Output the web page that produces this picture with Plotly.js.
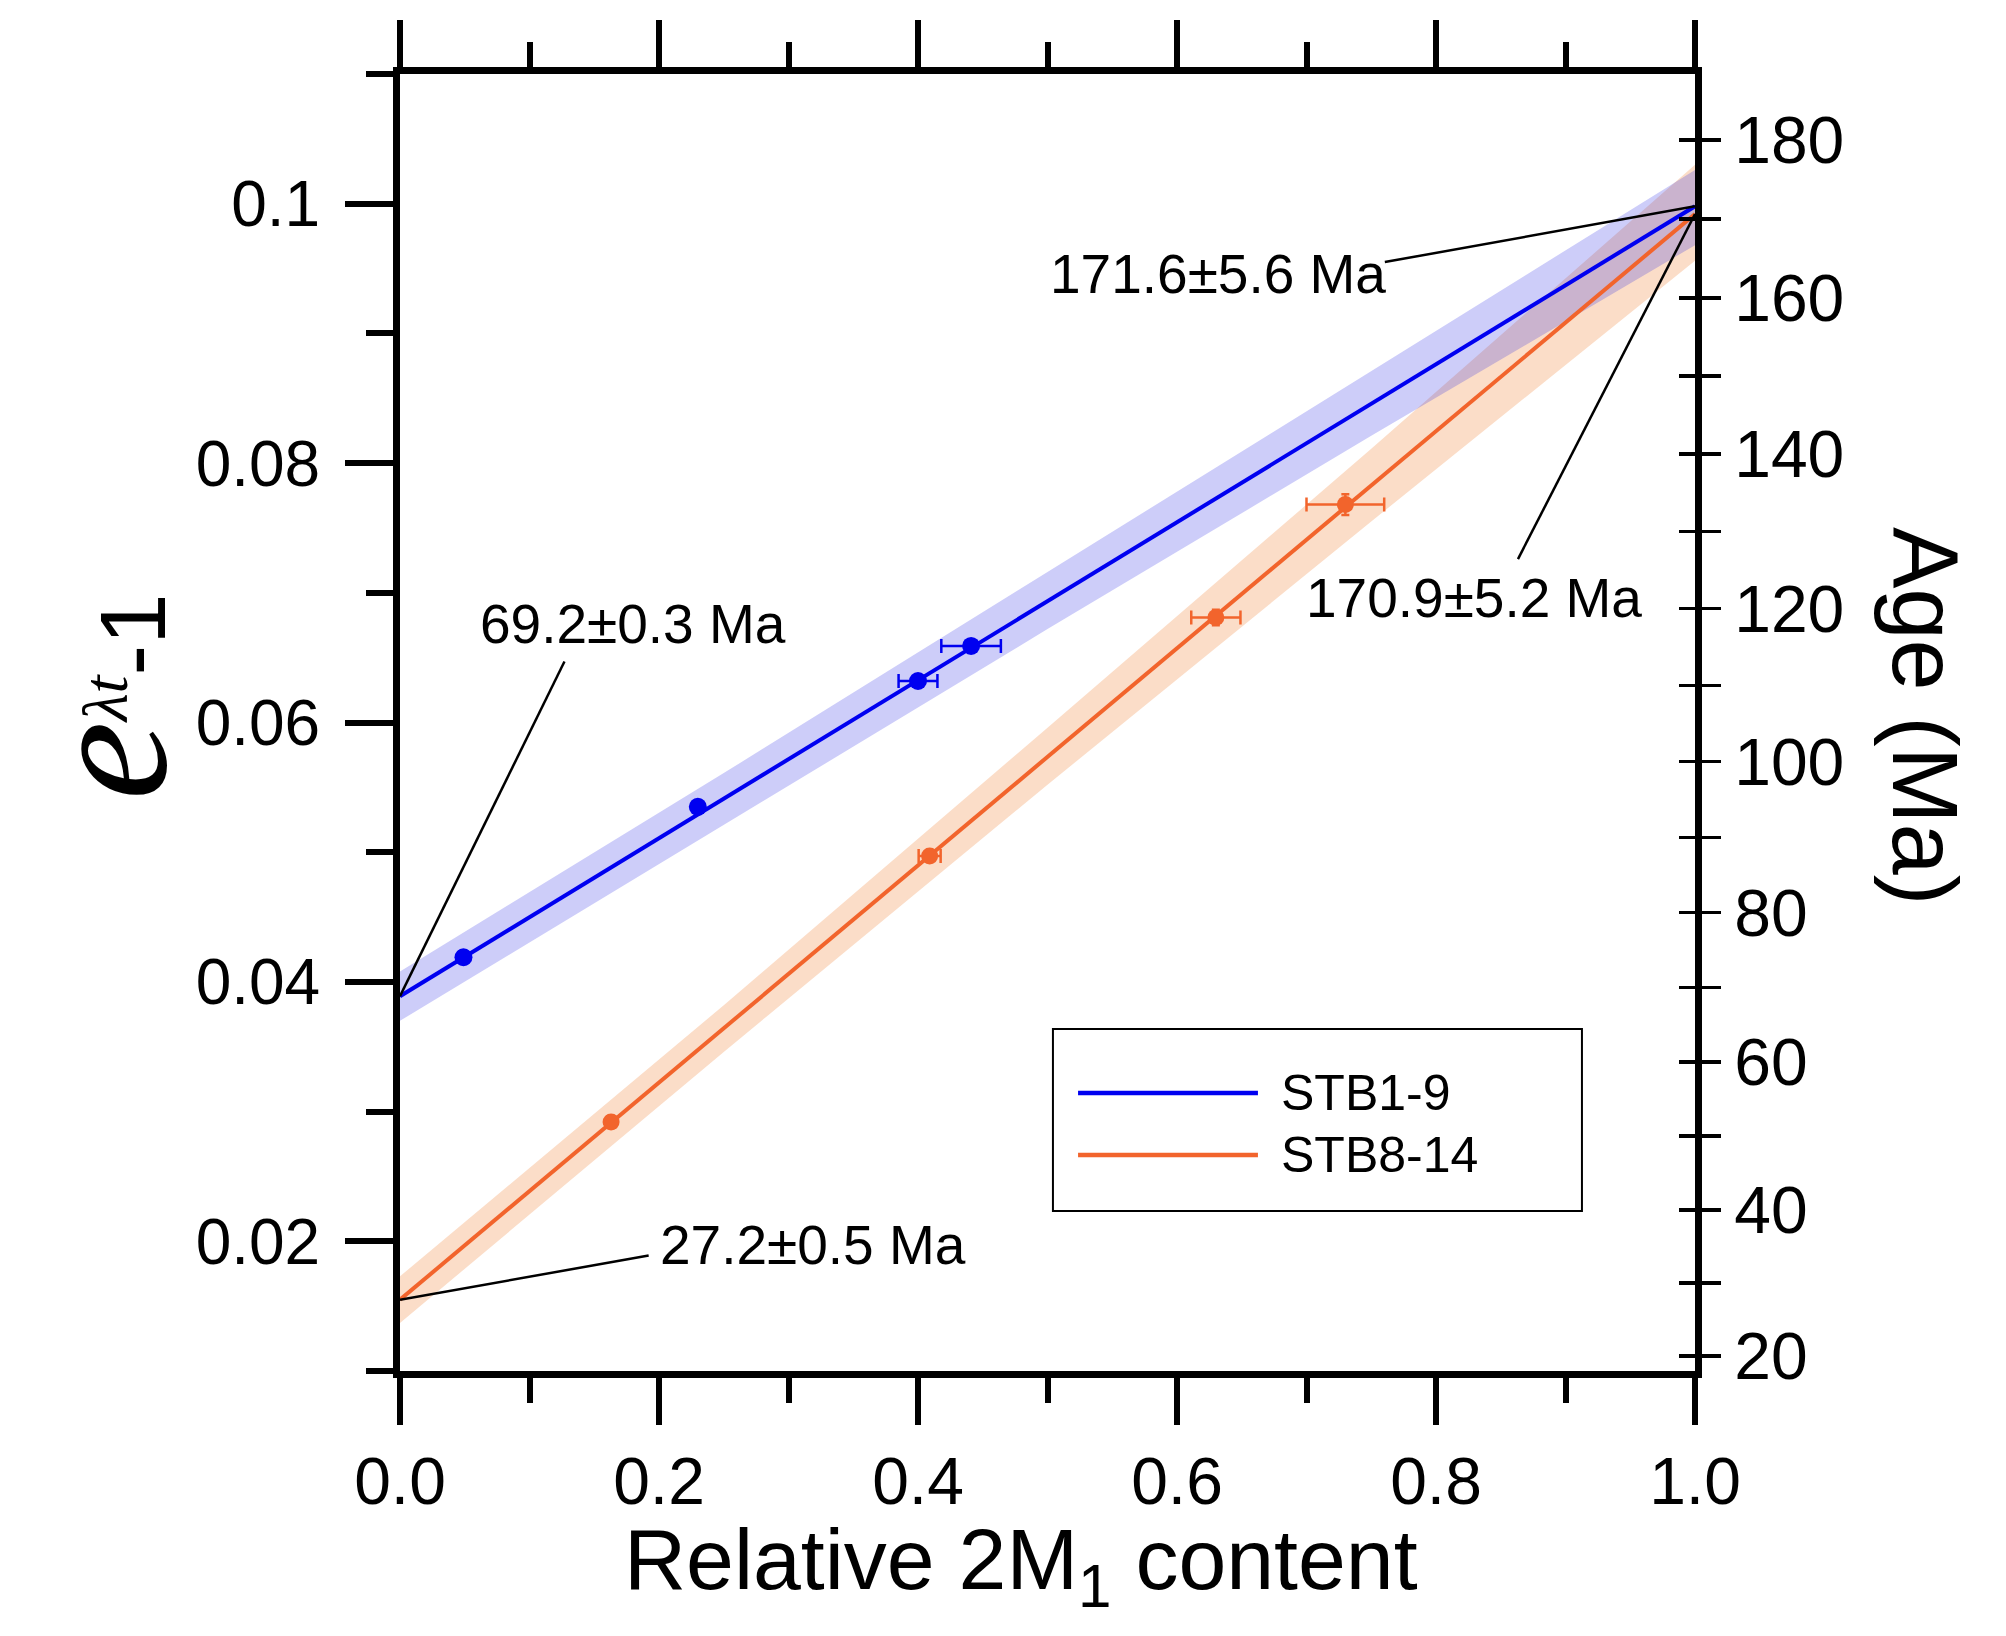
<!DOCTYPE html>
<html>
<head>
<meta charset="utf-8">
<script src="https://cdn.plot.ly/plotly-3.0.1.min.js"></script>
<style>html,body{margin:0;padding:0;background:#fff;}</style>
</head>
<body>
<div id="chart" style="width:2006px;height:1636px;"></div>
<script>
// ---- data ----
const seriesNames = ["STB1-9", "STB8-14"];
const xBlue = [0.049, 0.230, 0.400, 0.441];
const yBlue = [0.0419, 0.0535, 0.0632, 0.0659];
const xErrBlue = [0.003, 0.003, 0.015, 0.023];
const yErrBlue = [0.0003, 0.0004, 0.0004, 0.0005];
const xOrange = [0.163, 0.409, 0.630, 0.730];
const yOrange = [0.0292, 0.0497, 0.0681, 0.0768];
const xErrOrange = [0.003, 0.0085, 0.019, 0.030];
const yErrOrange = [0.0003, 0.0004, 0.0006, 0.0008];
const fitX = [0, 1];
const fitBlue = [0.0389, 0.0998];
const fitOrange = [0.0155, 0.0992];
const bandX = [0, 0.25, 0.5, 0.75, 1];
const bandBlueHi = [0.0408, 0.0561, 0.0716, 0.0871, 0.1026];
const bandBlueLo = [0.0370, 0.0521, 0.0672, 0.0821, 0.0968];
const bandOrangeHi = [0.0173, 0.0382, 0.0596, 0.0811, 0.1030];
const bandOrangeLo = [0.0137, 0.0346, 0.0552, 0.0755, 0.0956];
const ageMajor = [20, 40, 60, 80, 100, 120, 140, 160, 180];
const ageMinor = [30, 50, 70, 90, 110, 130, 150, 170];
const ageLabels = ["171.6\u00b15.6 Ma", "170.9\u00b15.2 Ma", "69.2\u00b10.3 Ma", "27.2\u00b10.5 Ma"];

// conversion of age (Ma) to e^(lambda t)-1 for the right axis
const LAMBDA = 5.543e-4; // per Ma
const ageToY = t => Math.exp(LAMBDA * t) - 1;

const FONT = "Liberation Sans, Arial, Helvetica, sans-serif";
const BLUE = "#0000f0";
const ORANGE = "#f2642c";

function band(hi, lo, color) {
  return {
    x: bandX.concat(bandX.slice().reverse()),
    y: hi.concat(lo.slice().reverse()),
    type: "scatter", mode: "lines", fill: "toself",
    fillcolor: color, line: {width: 0}, hoverinfo: "skip", showlegend: false
  };
}

const traces = [
  band(bandOrangeHi, bandOrangeLo, "rgba(240,128,50,0.27)"),
  band(bandBlueHi, bandBlueLo, "rgba(40,40,230,0.23)"),
  {x: fitX, y: fitBlue, type: "scatter", mode: "lines", name: seriesNames[0],
   line: {color: BLUE, width: 4}, showlegend: false},
  {x: fitX, y: fitOrange, type: "scatter", mode: "lines", name: seriesNames[1],
   line: {color: ORANGE, width: 4}, showlegend: false},
  {x: xBlue, y: yBlue, type: "scatter", mode: "markers", showlegend: false,
   marker: {color: BLUE, size: 18},
   error_x: {type: "data", array: xErrBlue, color: BLUE, thickness: 2.5, width: 7},
   error_y: {type: "data", array: yErrBlue, color: BLUE, thickness: 2.5, width: 4}},
  {x: xOrange, y: yOrange, type: "scatter", mode: "markers", showlegend: false,
   marker: {color: ORANGE, size: 17},
   error_x: {type: "data", array: xErrOrange, color: ORANGE, thickness: 2.5, width: 7},
   error_y: {type: "data", array: yErrOrange, color: ORANGE, thickness: 2.5, width: 4}},
  // right (age) axis carrier traces
  {x: [0], y: [0.05], yaxis: "y2", mode: "markers", marker: {opacity: 0}, showlegend: false, hoverinfo: "skip"},
  {x: [0], y: [0.05], yaxis: "y3", mode: "markers", marker: {opacity: 0}, showlegend: false, hoverinfo: "skip"}
];

// label positions (data coordinates) and leader-line anchors near labels
const labelPos = [[0.632, 0.0946], [0.829, 0.0696], [0.180, 0.0676], [0.319, 0.0197]];
const leaderEnd = [[0.7605, 0.0955], [0.8633, 0.0726], [0.127, 0.0647], [0.192, 0.0189]];
const leaderStart = [[fitX[1], fitBlue[1]], [fitX[1], fitOrange[1]], [fitX[0], fitBlue[0]], [fitX[0], fitOrange[0]]];

const shapes = [];
for (let i = 0; i < 4; i++) {
  shapes.push({type: "line", xref: "x", yref: "y",
    x0: leaderStart[i][0], y0: leaderStart[i][1], x1: leaderEnd[i][0], y1: leaderEnd[i][1],
    line: {color: "black", width: 2.5}, layer: "above"});
}
// legend box and samples (paper coordinates)
shapes.push({type: "rect", xref: "paper", yref: "paper", x0: 0.5042, x1: 0.9127, y0: 0.1234, y1: 0.2637,
  line: {color: "black", width: 2}, fillcolor: "rgba(0,0,0,0)", layer: "above"});
shapes.push({type: "line", xref: "paper", yref: "paper", x0: 0.5236, x1: 0.6625, y0: 0.2143, y1: 0.2143,
  line: {color: BLUE, width: 4.5}});
shapes.push({type: "line", xref: "paper", yref: "paper", x0: 0.5236, x1: 0.6625, y0: 0.1665, y1: 0.1665,
  line: {color: ORANGE, width: 4.5}});

const annotations = [];
for (let i = 0; i < 4; i++) {
  annotations.push({xref: "x", yref: "y", x: labelPos[i][0], y: labelPos[i][1], text: ageLabels[i],
    showarrow: false, xanchor: "center", yanchor: "middle", font: {family: FONT, size: 55, color: "black"}});
}
annotations.push({xref: "paper", yref: "paper", x: 0.6788, y: 0.2143, text: seriesNames[0], showarrow: false,
  xanchor: "left", yanchor: "middle", font: {family: FONT, size: 50, color: "black"}});
annotations.push({xref: "paper", yref: "paper", x: 0.6788, y: 0.1665, text: seriesNames[1], showarrow: false,
  xanchor: "left", yanchor: "middle", font: {family: FONT, size: 50, color: "black"}});
// axis titles
annotations.push({xref: "paper", yref: "paper", x: 0.4795, y: -0.15, text: "Relative 2M<sub>1</sub> content",
  showarrow: false, xanchor: "center", yanchor: "middle", font: {family: FONT, size: 86, color: "black"}});
annotations.push({xref: "paper", yref: "paper", x: 1.1776, y: 0.505, text: "Age (Ma)", textangle: 90,
  showarrow: false, xanchor: "center", yanchor: "middle", font: {family: FONT, size: 92, color: "black"}});
annotations.push({xref: "paper", yref: "paper", x: -0.228, y: 0.52, textangle: -90,
  text: '<span style="font-family:Liberation Serif;font-style:italic;font-size:178px">e</span>' +
        '<span style="font-family:Liberation Serif;font-style:italic;font-size:92px"><sup>\u03bbt</sup></span>' +
        '<span style="font-size:92px">-1</span>',
  showarrow: false, xanchor: "center", yanchor: "middle", font: {family: FONT, size: 92, color: "black"}});

const yRange = [0.01, 0.11];
const TICKFONT = {family: FONT, size: 66, color: "black"};
const layout = {
  width: 2006, height: 1636,
  margin: {l: 400, r: 311, t: 74, b: 265, pad: 0},
  paper_bgcolor: "white", plot_bgcolor: "white",
  showlegend: false,
  xaxis: {range: [0, 1], dtick: 0.2, tick0: 0, tickformat: ".1f", showgrid: false, zeroline: false,
    showline: true, linewidth: 7, linecolor: "black", mirror: "ticks",
    ticks: "outside", ticklen: 47, tickwidth: 6, tickcolor: "black",
    minor: {dtick: 0.1, ticks: "outside", ticklen: 25, tickwidth: 6, tickcolor: "black", showgrid: false},
    ticklabelstandoff: 0,
    tickfont: TICKFONT},
  yaxis: {range: yRange, dtick: 0.02, tick0: 0, showgrid: false, zeroline: false,
    showline: true, linewidth: 7, linecolor: "black",
    ticks: "outside", ticklen: 48, tickwidth: 6, tickcolor: "black",
    minor: {dtick: 0.01, ticks: "outside", ticklen: 27, tickwidth: 6, tickcolor: "black", showgrid: false},
    ticklabelstandoff: 12,
    tickfont: {family: FONT, size: 64, color: "black"}},
  yaxis2: {overlaying: "y", side: "right", range: yRange, showgrid: false, zeroline: false,
    tickmode: "array", tickvals: ageMajor.map(ageToY), ticktext: ageMajor.map(String),
    showline: true, linewidth: 7, linecolor: "black",
    ticks: "outside", ticklen: 19, tickwidth: 3.5, tickcolor: "black",
    minor: {tickmode: "array", tickvals: ageMinor.map(ageToY), ticks: "outside", ticklen: 19, tickwidth: 3.5, tickcolor: "black", showgrid: false},
    ticklabelstandoff: 0,
    tickfont: TICKFONT},
  yaxis3: {overlaying: "y", side: "right", range: yRange, showgrid: false, zeroline: false,
    tickmode: "array", tickvals: ageMajor.map(ageToY), showticklabels: false, showline: false,
    ticks: "inside", ticklen: 16, tickwidth: 3.5, tickcolor: "black",
    minor: {tickmode: "array", tickvals: ageMinor.map(ageToY), ticks: "inside", ticklen: 16, tickwidth: 3.5, tickcolor: "black", showgrid: false}},
  shapes: shapes,
  annotations: annotations
};

Plotly.newPlot("chart", traces, layout, {staticPlot: true, displayModeBar: false});
</script>
</body>
</html>
